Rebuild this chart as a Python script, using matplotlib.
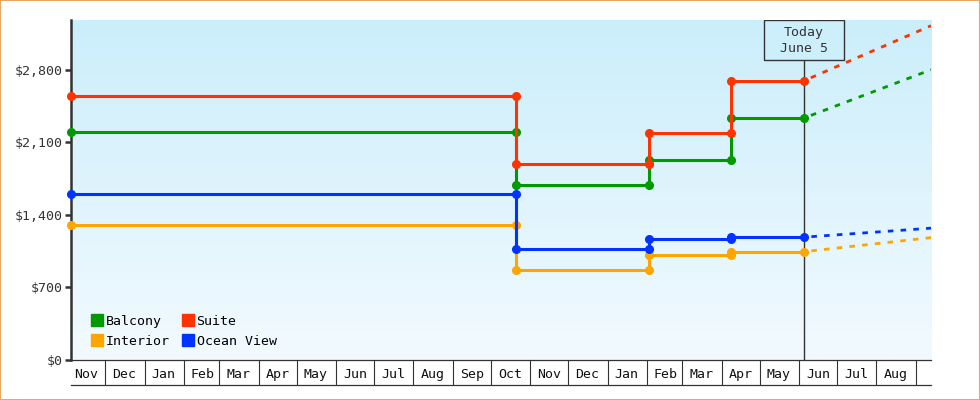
import numpy as np
import matplotlib
matplotlib.use("Agg")
import matplotlib.pyplot as plt
import matplotlib.dates as mdates
import matplotlib.transforms as mtrans
from matplotlib.colors import LinearSegmentedColormap
from matplotlib.lines import Line2D
from matplotlib.patches import Rectangle

# price history (step changes), same dates for every cabin type
dates = np.array(['2021-11-04', '2022-10-21', '2022-10-21', '2023-02-03',
                  '2023-02-03', '2023-04-08', '2023-04-08', '2023-06-05'],
                 dtype='datetime64[D]')
balcony = [2200, 2200, 1690, 1690, 1930, 1930, 2335, 2335]
suite = [2550, 2550, 1890, 1890, 2190, 2190, 2695, 2695]
interior = [1300, 1300, 865, 865, 1015, 1015, 1045, 1045]
ocean_view = [1600, 1600, 1070, 1070, 1170, 1170, 1185, 1185]

# projection from today to the end of the window
proj_dates = np.array(['2023-06-05', '2023-09-13'], dtype='datetime64[D]')
balcony_proj = [2335, 2800]
suite_proj = [2695, 3225]
interior_proj = [1045, 1181]
ocean_view_proj = [1185, 1272]

today = np.datetime64('2023-06-05')
today_label = "Today\nJune 5"
y_ticks = [0, 700, 1400, 2100, 2800]

series = [
    ("Balcony", balcony, balcony_proj, "#009900"),
    ("Interior", interior, interior_proj, "#ffa500"),
    ("Suite", suite, suite_proj, "#ff3300"),
    ("Ocean View", ocean_view, ocean_view_proj, "#0033ff"),
]

plt.rcParams['font.family'] = ['DejaVu Sans Mono']
fig = plt.figure(figsize=(9.8, 4.0), dpi=100)
ax = fig.add_axes([71 / 980, 40 / 400, 860 / 980, 340 / 400])

# gradient background
bg = LinearSegmentedColormap.from_list('bg', ['#cbeefb', '#f2faff'])
ax.imshow(np.linspace(0, 1, 256).reshape(-1, 1), cmap=bg, extent=[0, 1, 0, 1],
          transform=ax.transAxes, aspect='auto', zorder=0)

ax.axvline(today, color='#333333', lw=1, zorder=2)

for name, vals, proj, col in series:
    ax.plot(dates, vals, color=col, lw=2.2, marker='o', markersize=5.5,
            zorder=3, clip_on=False)
    ax.plot(proj_dates, proj, color=col, lw=2, linestyle=(2, (2, 2.6)), zorder=3)
    ax.plot([], [], color=col, marker='s', linestyle='', markersize=8, label=name)

ax.set_xlim(np.datetime64('2021-11-04'), np.datetime64('2023-09-13'))
ax.set_ylim(0, 3280)

# today box
tnum = mdates.date2num(today)
box_tr = mtrans.blended_transform_factory(ax.transData, ax.transAxes)
ax.add_patch(Rectangle((tnum - 32, 0.881), 63.7, 0.119, transform=box_tr,
                       facecolor='#cdeffc', edgecolor='#333333', lw=1, zorder=6))
ax.text(tnum, 0.94, today_label, transform=box_tr, ha='center', va='center',
        multialignment='center', fontsize=9.5, color='#333333', linespacing=1.25,
        zorder=7)

# y axis
ax.set_yticks(y_ticks)
ax.yaxis.set_major_formatter(matplotlib.ticker.FuncFormatter(lambda v, p: f'${v:,.0f}'))
ax.tick_params(axis='y', length=4, width=1.8, color='#333333', labelcolor='#333333',
               labelsize=9.5, pad=2)

# x axis: month boxes
ax.xaxis.set_major_locator(mdates.MonthLocator())
ax.xaxis.set_major_formatter(matplotlib.ticker.NullFormatter())
ax.xaxis.set_minor_locator(mdates.MonthLocator(bymonthday=16))
ax.xaxis.set_minor_formatter(mdates.DateFormatter('%b'))
ax.tick_params(axis='x', which='major', length=18, width=0.8, color='#333333')
ax.tick_params(axis='x', which='minor', length=0, labelsize=9.5, pad=6,
               labelcolor='#111111')

for s in ['top', 'right']:
    ax.spines[s].set_visible(False)
ax.spines['left'].set_linewidth(1.8)
ax.spines['left'].set_color('#333333')
ax.spines['bottom'].set_linewidth(0.9)
ax.spines['bottom'].set_color('#333333')

low_tr = ax.transAxes + mtrans.ScaledTranslation(0, -25 / 100, fig.dpi_scale_trans)
ax.add_artist(Line2D([0, 1], [0, 0], transform=low_tr, color='#333333', lw=0.9,
                     clip_on=False))

ax.legend(loc='lower left', bbox_to_anchor=(0.024, 0.035), ncol=2, frameon=False,
          fontsize=9.5, handlelength=0.8, handletextpad=0.25, columnspacing=1.0,
          labelspacing=0.55, borderpad=0, borderaxespad=0)

fig.add_artist(Rectangle((0, 0), 1, 1, transform=fig.transFigure, fill=False,
                         edgecolor='#e8a862', lw=1.5))

fig.savefig('out.png', dpi=100)
